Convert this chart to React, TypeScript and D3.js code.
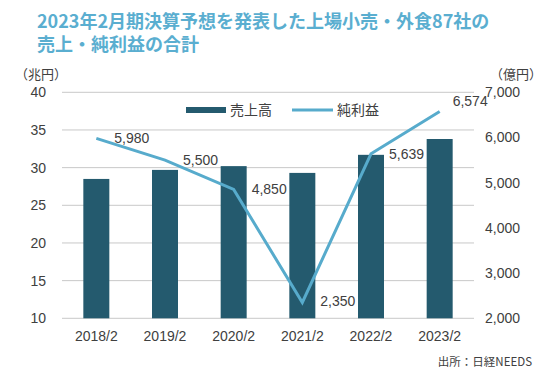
import React from "react";
import * as d3 from "d3";

const categories = ["2018/2", "2019/2", "2020/2", "2021/2", "2022/2", "2023/2"];
const salesValues = [28.5, 29.7, 30.2, 29.3, 31.7, 33.8];
const profitValues = [5980, 5500, 4850, 2350, 5639, 6574];
const leftTicks = [10, 15, 20, 25, 30, 35, 40];
const rightTicks = [2000, 3000, 4000, 5000, 6000, 7000];
const titleLines = ["2023年2月期決算予想を発表した上場小売・外食87社の", "売上・純利益の合計"];

const W = 552;
const H = 377;
const plot = { left: 62, right: 474, top: 92.3, bottom: 318.3 };
const FONT = "'Liberation Sans', Arial, 'Noto Sans CJK JP', sans-serif";
const BAR = "#245a6e";
const LINE = "#57abcc";
const TXT = "#404040";

export default function App() {
  const step = (plot.right - plot.left) / categories.length;
  const cx = (c: string) => plot.left + step * (categories.indexOf(c) + 0.5);
  const barW = 26;
  const yL = d3.scaleLinear().domain([10, 40]).range([plot.bottom, plot.top]);
  const yR = d3.scaleLinear().domain([2000, 7000]).range([plot.bottom, plot.top]);
  const line = d3
    .line<number>()
    .x((_, i) => cx(categories[i]))
    .y((d) => yR(d));
  const fmt = d3.format(",");
  const labelOffsets = [
    [18, 0],
    [18, 0],
    [18, 0],
    [18, -1],
    [18, 0],
    [13, -10],
  ];

  return (
    <svg width={W} height={H} style={{ position: "absolute", left: 0, top: 0, background: "#fff" }} fontFamily={FONT}>
      {titleLines.map((t, i) => (
        <text key={i} x={37} y={28 + i * 23} fill="#5aaed0" fontSize={18} fontWeight="bold" fontFamily="'Noto Sans CJK JP', sans-serif">
          {t}
        </text>
      ))}
      <text x={15} y={79} fontSize={13} fill={TXT} fontFamily="'Noto Sans CJK JP', sans-serif">（兆円）</text>
      <text x={490} y={79} fontSize={13} fill={TXT} fontFamily="'Noto Sans CJK JP', sans-serif">（億円）</text>

      {leftTicks.map((t) => (
        <g key={t}>
          <line x1={plot.left} x2={plot.right} y1={yL(t)} y2={yL(t)} stroke="#c8c8c8" strokeWidth={1} />
          <text x={46} y={yL(t)} dy="0.35em" textAnchor="end" fontSize={14} fill={TXT}>
            {t}
          </text>
        </g>
      ))}
      {rightTicks.map((t) => (
        <text key={t} x={485} y={yR(t)} dy="0.35em" fontSize={14} fill={TXT}>
          {fmt(t)}
        </text>
      ))}

      {categories.map((c, i) => (
        <rect key={c} x={cx(c) - barW / 2} y={yL(salesValues[i])} width={barW} height={plot.bottom - yL(salesValues[i])} fill={BAR} />
      ))}

      <path d={line(profitValues) || ""} fill="none" stroke={LINE} strokeWidth={3} strokeLinejoin="miter" />

      {profitValues.map((v, i) => (
        <text key={i} x={cx(categories[i]) + labelOffsets[i][0]} y={yR(v) + labelOffsets[i][1]} dy="0.35em" fontSize={14} fill={TXT}>
          {fmt(v)}
        </text>
      ))}

      {categories.map((c) => (
        <text key={c} x={cx(c)} y={336} dy="0.35em" textAnchor="middle" fontSize={14} fill={TXT}>
          {c}
        </text>
      ))}

      <rect x={186} y={107} width={40} height={6} fill={BAR} />
      <text x={230} y={110} dy="0.35em" fontSize={14} fill={TXT} fontFamily="'Noto Sans CJK JP', sans-serif">売上高</text>
      <line x1={292} x2={333} y1={110} y2={110} stroke={LINE} strokeWidth={3} />
      <text x={337} y={110} dy="0.35em" fontSize={14} fill={TXT} fontFamily="'Noto Sans CJK JP', sans-serif">純利益</text>

      <text x={532} y={362} dy="0.35em" textAnchor="end" fontSize={11.5} fill={TXT} fontFamily="'Noto Sans CJK JP', sans-serif">出所：日経NEEDS</text>
    </svg>
  );
}
